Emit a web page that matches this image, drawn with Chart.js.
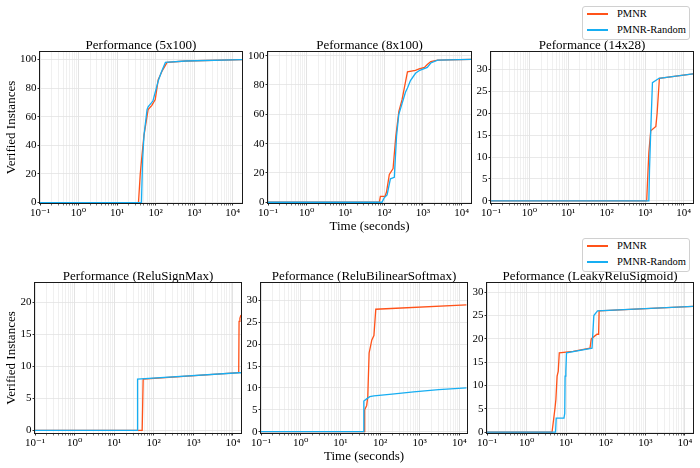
<!DOCTYPE html>
<html><head><meta charset="utf-8">
<script src="https://cdn.jsdelivr.net/npm/chart.js@4.4.1/dist/chart.umd.min.js"></script>
<style>
html,body{margin:0;padding:0;background:#fff;}
#fig{position:relative;width:700px;height:468px;overflow:hidden;background:#fff;}
#fig canvas{position:absolute;}
.legend{position:absolute;border:1px solid #d0d0d0;border-radius:3px;background:#fff;font-family:"Liberation Serif","DejaVu Serif",serif;font-size:10.5px;color:#000;box-sizing:border-box;z-index:5;}
.legend .sw{position:absolute;left:4px;width:21px;height:2px;}
.legend .lb{position:absolute;left:34px;line-height:12px;white-space:nowrap;}
</style></head>
<body><div id="fig"></div>
<script>
// ---------------- DATA ----------------
const seriesNames = ['PMNR', 'PMNR-Random'];
const panelTitles = ['Performance (5x100)', 'Peformance (8x100)', 'Peformance (14x28)',
                     'Performance (ReluSignMax)', 'Peformance (ReluBilinearSoftmax)', 'Peformance (LeakyReluSigmoid)'];
const xMajorValues = [0.1, 1, 10, 100, 1000, 10000];
const xTickLabels = ['10\u207B\u00B9', '10\u2070', '10\u00B9', '10\u00B2', '10\u00B3', '10\u2074'];
const yTicks100 = [0, 20, 40, 60, 80, 100];
const yTicks30 = [0, 5, 10, 15, 20, 25, 30];
const yTicks20 = [0, 5, 10, 15, 20];
const yLabel = 'Verified Instances';
const xLabel = 'Time (seconds)';

// Performance (5x100)
const a_pmnr_x = [0.1, 36, 40, 44, 50, 64, 80, 98, 117, 148, 199, 600, 17500];
const a_pmnr_y = [0, 0, 20, 32, 47, 65, 68, 72, 86, 92, 98, 99, 100];
const a_rand_x = [0.1, 43, 46, 50, 60, 64, 85, 100, 117, 140, 180, 600, 17500];
const a_rand_y = [0, 0, 30, 47, 65, 67, 71, 78, 85, 91, 98, 99, 100];
// Peformance (8x100)
const b_pmnr_x = [0.1, 75, 80, 105, 115, 136, 170, 200, 240, 290, 355, 400, 640, 800, 1100, 1300, 1600, 2400, 17500];
const b_pmnr_y = [0, 0, 4, 4, 7, 19, 23, 45, 62, 70, 82, 89, 90, 91, 92, 94, 96, 97, 97.5];
const b_rand_x = [0.1, 88, 100, 119, 145, 183, 209, 239, 355, 400, 478, 645, 830, 1300, 1600, 2400, 17500];
const b_rand_y = [0, 0, 3, 5, 16, 17, 45, 60, 75, 78, 83, 88, 90, 92, 95, 97, 97.5];
// Peformance (14x28)
const c_pmnr_x = [0.1, 1100, 1150, 1250, 1400, 1900, 2050, 2350, 17500];
const c_pmnr_y = [0, 0, 4, 11, 16, 17, 20, 28, 29];
const c_rand_x = [0.1, 1250, 1300, 1400, 1550, 2300, 17500];
const c_rand_y = [0, 0, 7, 16, 27, 28, 29];
// Performance (ReluSignMax)
const d_pmnr_x = [0.1, 51, 54, 14000, 14300, 15000, 16000];
const d_pmnr_y = [0, 0, 8, 9, 17, 17.5, 18];
const d_rand_x = [0.1, 38, 39, 14000, 16000];
const d_rand_y = [0, 0, 8, 9, 9];
// Peformance (ReluBilinearSoftmax)
const e_pmnr_x = [0.1, 40, 41, 46, 49, 53, 62, 70, 78, 15000];
const e_pmnr_y = [0, 0, 5, 6, 8, 18, 21, 22, 28, 29];
const e_rand_x = [0.1, 38, 39, 46, 55, 70, 200, 700, 3000, 15000];
const e_rand_y = [0, 0, 7, 7.5, 8, 8.2, 8.6, 9.1, 9.6, 10];
// Peformance (LeakyReluSigmoid)
const f_pmnr_x = [0.1, 4.4, 5.2, 5.5, 5.9, 6.3, 6.7, 15, 40, 43, 60, 66, 68, 16000];
const f_pmnr_y = [0, 0, 5, 7, 12, 13, 17, 17.3, 18, 20, 21, 21, 26, 27];
const f_rand_x = [0.1, 5.4, 5.6, 8.8, 9.2, 9.4, 9.8, 10.2, 45, 50, 62, 16000];
const f_rand_y = [0, 0, 3, 3, 4, 12, 13, 17, 18, 25, 26, 27];

// ---------------- LAYOUT / STYLE ----------------
const SERIF = '"Liberation Serif", "DejaVu Serif", serif';
const COLORS = ['#ff5219', '#17aef2'];
const TH = 16, XH = 33, RP = 3;
const panels = [
  {title: panelTitles[0], px: [a_pmnr_x, a_rand_x], py: [a_pmnr_y, a_rand_y], l: 40, t: 52, r: 242, b: 203, ymin: -0.3, ymax: 105.3, yt: yTicks100, xmax: 17500, ylab: true, xlab: false},
  {title: panelTitles[1], px: [b_pmnr_x, b_rand_x], py: [b_pmnr_y, b_rand_y], l: 268, t: 52, r: 471, b: 203, ymin: -0.5, ymax: 102.5, yt: yTicks100, xmax: 17500, ylab: false, xlab: true},
  {title: panelTitles[2], px: [c_pmnr_x, c_rand_x], py: [c_pmnr_y, c_rand_y], l: 491, t: 52, r: 693, b: 203, ymin: -0.5, ymax: 34, yt: yTicks30, xmax: 17500, ylab: false, xlab: false},
  {title: panelTitles[3], px: [d_pmnr_x, d_rand_x], py: [d_pmnr_y, d_rand_y], l: 35, t: 283, r: 241, b: 433, ymin: -0.4, ymax: 23, yt: yTicks20, xmax: 16000, ylab: true, xlab: false},
  {title: panelTitles[4], px: [e_pmnr_x, e_rand_x], py: [e_pmnr_y, e_rand_y], l: 261, t: 283, r: 467, b: 433, ymin: -0.3, ymax: 34, yt: yTicks30, xmax: 15500, ylab: false, xlab: true},
  {title: panelTitles[5], px: [f_pmnr_x, f_rand_x], py: [f_pmnr_y, f_rand_y], l: 487, t: 283, r: 693, b: 433, ymin: -0.2, ymax: 32, yt: yTicks30, xmax: 16000, ylab: false, xlab: false}
];

function isMajor(v) {
  return xMajorValues.some(m => Math.abs(m - v) / m < 1e-6);
}
function xGrid(max) {
  const out = [];
  for (const m of xMajorValues) {
    for (let k = 1; k <= 9; k++) { const v = m * k; if (v <= max) out.push(v); }
  }
  return out;
}

const framePlugin = {
  id: 'frame',
  afterDraw(chart) {
    const {ctx, chartArea: a} = chart;
    ctx.save();
    ctx.strokeStyle = '#1a1a1a';
    ctx.lineWidth = 1;
    ctx.strokeRect(Math.round(a.left) - 0.5, Math.round(a.top) - 0.5, Math.round(a.right - a.left) + 1, Math.round(a.bottom - a.top) + 1);
    ctx.restore();
  }
};

const fig = document.getElementById('fig');
panels.forEach((p, idx) => {
  const YW = p.ylab ? p.l : 38;
  const cv = document.createElement('canvas');
  const w = (p.r - p.l) + YW + RP;
  const h = TH + (p.b - p.t) + XH;
  cv.width = w; cv.height = h;
  cv.style.left = (p.l - YW) + 'px';
  cv.style.top = (p.t - TH) + 'px';
  cv.style.width = w + 'px'; cv.style.height = h + 'px';
  fig.appendChild(cv);
  const grid = xGrid(p.xmax);
  new Chart(cv, {
    type: 'line',
    data: {
      datasets: seriesNames.map((name, s) => ({
        label: name,
        data: p.px[s].map((x, i) => ({x: x, y: p.py[s][i]})),
        borderColor: COLORS[s],
        backgroundColor: COLORS[s],
        borderWidth: 1.3,
        pointRadius: 0,
        tension: 0,
        fill: false,
        order: s === 1 ? 0 : 1
      }))
    },
    options: {
      responsive: false, animation: false, devicePixelRatio: 1,
      layout: {padding: {left: 0, right: RP, top: 0, bottom: 0}},
      plugins: {
        legend: {display: false},
        tooltip: {enabled: false},
        title: {display: true, text: p.title, fullSize: false, color: '#000',
                padding: {top: 1.5, bottom: -1.5},
                font: {family: SERIF, size: 13, weight: 'normal', lineHeight: '16px'}}
      },
      scales: {
        x: {
          type: 'logarithmic', min: 0.1, max: p.xmax,
          afterBuildTicks: s => { s.ticks = grid.map(v => ({value: v})); },
          afterFit: s => { s.height = XH; },
          ticks: {
            autoSkip: false, maxRotation: 0, minRotation: 0, padding: 1, color: '#000',
            font: {family: SERIF, size: 11},
            callback: v => { const i = xMajorValues.findIndex(m => Math.abs(m - v) / m < 1e-6); return i >= 0 ? xTickLabels[i] : ''; }
          },
          grid: {
            color: c => (c.tick && isMajor(c.tick.value)) ? '#dcdcdc' : '#ececec',
            tickColor: c => (c.tick && isMajor(c.tick.value)) ? '#000' : '#555',
            lineWidth: 0.8, tickLength: 2.5, drawTicks: true
          },
          border: {display: false},
          title: {display: p.xlab, text: xLabel, color: '#000', padding: {top: 0, bottom: 2},
                  font: {family: SERIF, size: 13, lineHeight: 1.2}}
        },
        y: {
          type: 'linear', min: p.ymin, max: p.ymax,
          afterBuildTicks: s => { s.ticks = p.yt.map(v => ({value: v})); },
          afterFit: s => { s.width = YW; },
          ticks: {padding: 1, color: '#000', font: {family: SERIF, size: 11}, callback: v => String(v)},
          grid: {color: '#e3e3e3', tickColor: '#000', lineWidth: 0.8, tickLength: 2.5},
          border: {display: false},
          title: {display: p.ylab, text: yLabel, color: '#000', padding: {top: 4, bottom: 0},
                  font: {family: SERIF, size: 13, lineHeight: 1.2}}
        }
      }
    },
    plugins: [framePlugin]
  });
});

// HTML legends (top-right of each row)
[[582, 6], [582, 238]].forEach(([lx, ly]) => {
  const box = document.createElement('div');
  box.className = 'legend';
  box.style.left = lx + 'px'; box.style.top = ly + 'px';
  box.style.width = '108px'; box.style.height = '34px';
  seriesNames.forEach((name, s) => {
    const cy = s === 0 ? 7 : 23;
    const sw = document.createElement('div');
    sw.className = 'sw';
    sw.style.top = (cy - 1) + 'px';
    sw.style.background = COLORS[s];
    const lb = document.createElement('div');
    lb.className = 'lb';
    lb.style.top = (cy - 6) + 'px';
    lb.textContent = name;
    box.appendChild(sw); box.appendChild(lb);
  });
  fig.appendChild(box);
});
</script>
</body></html>
